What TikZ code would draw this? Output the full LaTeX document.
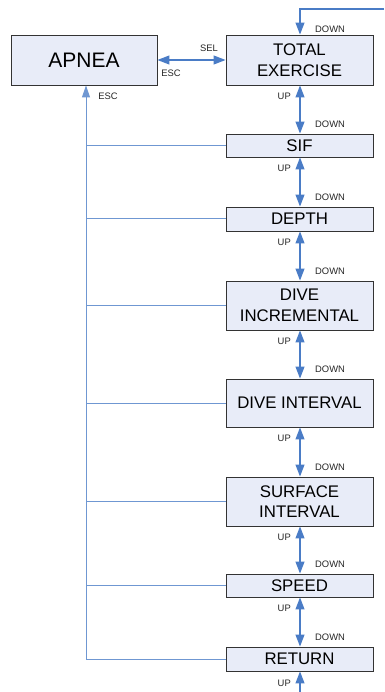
\documentclass[tikz,border=0pt]{standalone}
\usepackage{fontspec}
\setmainfont{Liberation Sans}
\usepackage{xcolor}
\usetikzlibrary{arrows.meta}
\definecolor{boxfill}{HTML}{E8ECF8}
\definecolor{arrowblue}{HTML}{4A7CC6}
\definecolor{lineblue}{HTML}{6F97D2}

\begin{document}
\begin{tikzpicture}[x=1pt,y=-1pt,
  menu/.style={draw=black!80,fill=boxfill,line width=0.9pt,minimum width=147pt,
    align=center,inner sep=0pt,font=\fontsize{16.8}{20.5}\selectfont},
  key/.style={font=\fontsize{9.4}{11}\selectfont,text=black!85,inner sep=1pt},
  nav/.style={arrowblue,line width=1.1pt,{Triangle[length=12pt,width=9pt]}-{Triangle[length=12pt,width=9pt]}},
  feed/.style={lineblue,line width=1pt}]
\useasboundingbox (0,0) rectangle (384,692);
\node[menu,minimum width=146pt,minimum height=50pt,font=\fontsize{21}{24}\selectfont](apnea) at (84,60){APNEA};
\node[menu,minimum height=50pt](total) at (299.5,60){TOTAL\\EXERCISE};
\node[menu,minimum height=23pt](sif) at (299.5,145.5){SIF};
\node[menu,minimum height=24pt](depth) at (299.5,219){DEPTH};
\node[menu,minimum height=49pt](diveinc) at (299.5,305.5){DIVE\\INCREMENTAL};
\node[menu,minimum height=48pt](diveint) at (299.5,403){DIVE INTERVAL};
\node[menu,minimum height=49pt](surface) at (299.5,501.5){SURFACE\\INTERVAL};
\node[menu,minimum height=23pt](speed) at (299.5,585.5){SPEED};
\node[menu,minimum height=24pt](return) at (299.5,659){RETURN};
% apnea <-> total exercise
\draw[nav](apnea.east)--(total.west);
\node[key](sel) at (209,48){SEL};
\node[key](esc1) at (171,73){ESC};
% up/down chain
\foreach \a/\b in {total/sif,sif/depth,depth/diveinc,diveinc/diveint,diveint/surface,surface/speed,speed/return}{
  \draw[nav](\a.south-|300,0)--(\b.north-|300,0);
  \node[key,anchor=east] at ([yshift=-11pt]\a.south-|292,0){UP};
  \node[key,anchor=west] at ([yshift=9pt]\b.north-|314,0){DOWN};
}
% wrap around ends
\coordinate(topin) at (384,9);
\coordinate(botin) at (300,692);
\draw[arrowblue,line width=1.1pt,-{Triangle[length=12pt,width=9pt]}](topin)-|(total.north-|300,0);
\node[key,anchor=west](down0) at (314,29){DOWN};
\draw[arrowblue,line width=1.1pt,-{Triangle[length=12pt,width=9pt]}](botin)--(return.south-|300,0);
\node[key,anchor=east](up9) at (292,683){UP};
% escape back to apnea
\coordinate(escfoot) at (86,659);
\draw[feed,-{Triangle[length=12pt,width=8pt]}](escfoot)--(apnea.south-|86,0);
\node[key](esc2) at (108,96){ESC};
\foreach \m in {sif,depth,diveinc,diveint,surface,speed,return}
  \draw[feed](\m.west-|86,0)--(\m.west);
\end{tikzpicture}
\end{document}
